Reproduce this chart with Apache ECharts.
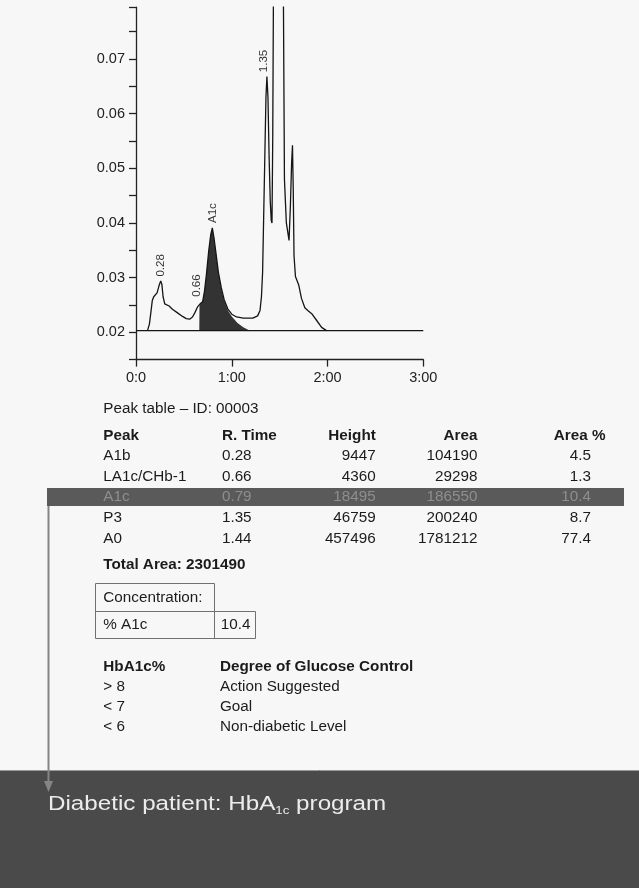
<!DOCTYPE html>
<html>
<head>
<meta charset="utf-8">
<script src="https://cdn.jsdelivr.net/npm/echarts@6/dist/echarts.min.js"></script>
<style>
  html, body { margin: 0; padding: 0; background: #f7f7f7; }
  #chart { width: 639px; height: 888px; }
</style>
</head>
<body>
<div id="chart"></div>
<script>
// chromatogram trace (time in min, absorbance)
var traceT = [0.120,0.140,0.155,0.170,0.185,0.205,0.220,0.240,0.258,0.270,0.283,0.300,0.320,0.346,0.380,0.430,0.486,0.525,0.560,0.590,0.615,0.645,0.670,0.696,0.715,0.735,0.760,0.780,0.797,0.815,0.835,0.860,0.890,0.920,0.958,1.000,1.050,1.120,1.220,1.270,1.295,1.310,1.322,1.333,1.345,1.357,1.367,1.378,1.390,1.402,1.412,1.420,1.428,1.436,1.485,1.538,1.550,1.570,1.598,1.612,1.625,1.634,1.642,1.650,1.665,1.700,1.728,1.763,1.800,1.835,1.885,1.938,1.990]
var traceV = [0.0203,0.0215,0.0236,0.0258,0.0265,0.0267,0.0272,0.0285,0.0294,0.0288,0.0265,0.0252,0.0250,0.0248,0.0242,0.0236,0.0229,0.0225,0.0224,0.0228,0.0236,0.0247,0.0252,0.0256,0.0275,0.0305,0.0350,0.0378,0.0391,0.0372,0.0345,0.0310,0.0282,0.0260,0.0243,0.0233,0.0228,0.0226,0.0226,0.0230,0.0240,0.0265,0.0310,0.0410,0.0520,0.0630,0.0668,0.0630,0.0520,0.0440,0.0405,0.0400,0.0560,0.0850,0.6000,0.0850,0.0480,0.0400,0.0368,0.0430,0.0510,0.0542,0.0460,0.0340,0.0302,0.0286,0.0262,0.0245,0.0239,0.0234,0.0222,0.0209,0.0203]
// integrated A1c peak (shaded)
var a1cT = [0.661,0.663,0.696,0.715,0.735,0.760,0.780,0.797,0.815,0.835,0.860,0.890,0.920,0.960,1.000,1.060,1.120,1.190]
var a1cV = [0.0203,0.0250,0.0256,0.0275,0.0305,0.0350,0.0378,0.0391,0.0372,0.0345,0.0310,0.0280,0.0258,0.0240,0.0229,0.0217,0.0209,0.0203]
var baseV = 0.0203
// peak annotations
var peakLabelT = [0.258, 0.640, 0.801, 1.336]
var peakLabelV = [0.0302, 0.0265, 0.0400, 0.0676]
var peakLabelText = ['0.28', '0.66', 'A1c', '1.35']
var xTicks = ['0:0', '1:00', '2:00', '3:00']

// peak table
var peakNames = ['A1b', 'LA1c/CHb-1', 'A1c', 'P3', 'A0']
var rTimes = ['0.28', '0.66', '0.79', '1.35', '1.44']
var heights = [9447, 4360, 18495, 46759, 457496]
var areas = [104190, 29298, 186550, 200240, 1781212]
var areaPct = ['4.5', '1.3', '10.4', '8.7', '77.4']
var totalArea = 2301490
var concA1c = '10.4'
var hbLevels = ['> 8', '< 7', '< 6']
var hbDegrees = ['Action Suggested', 'Goal', 'Non-diabetic Level']

var FONT = '"Liberation Sans", Arial, Helvetica, sans-serif'
var INK = '#1b1b1b'

function txt(x, y, s, o) {
  o = o || {}
  return {
    type: 'text', x: x, y: y, z: 20,
    scaleX: o.sx || 1.09,
    style: {
      text: s,
      fill: o.color || INK,
      font: (o.bold ? 'bold ' : '') + (o.size || 14) + 'px ' + FONT,
      align: o.align || 'left', textAlign: o.align || 'left',
      verticalAlign: 'middle', textVerticalAlign: 'middle'
    }
  }
}

var graphics = []
// highlight bar + arrow + bottom band
graphics.push({ type: 'rect', z: 5, shape: { x: 0, y: 770, width: 639, height: 118 }, style: { fill: '#4a4a4a' } })
graphics.push({ type: 'line', z: 6, shape: { x1: 0, y1: 770.5, x2: 639, y2: 770.5 }, style: { stroke: '#9a9a9a', lineWidth: 1 } })
graphics.push({ type: 'rect', z: 8, shape: { x: 47, y: 488, width: 577, height: 18 }, style: { fill: '#5a5a5a' } })
graphics.push({ type: 'line', z: 9, shape: { x1: 48.5, y1: 506, x2: 48.5, y2: 783 }, style: { stroke: '#858585', lineWidth: 2 } })
graphics.push({ type: 'polygon', z: 9, shape: { points: [[44, 781], [53, 781], [48.5, 792]] }, style: { fill: '#858585' } })
graphics.push({
  type: 'text', x: 48, y: 804, z: 20, scaleX: 1.21,
  style: {
    text: '{m|Diabetic patient: HbA}{s|1c}{m| program}',
    fill: '#ececec', verticalAlign: 'middle', textVerticalAlign: 'middle',
    rich: {
      m: { fontSize: 20, fontFamily: FONT, fill: '#ececec', lineHeight: 24, verticalAlign: 'middle' },
      s: { fontSize: 11, fontFamily: FONT, fill: '#ececec', lineHeight: 22, verticalAlign: 'bottom' }
    }
  }
})

// peak table
graphics.push(txt(103.3, 409.3, 'Peak table \u2013 ID: 00003'))
var rowY0 = 435.7, rowStep = 20.6
var headerY = rowY0
graphics.push(txt(103.3, headerY, 'Peak', { bold: true }))
graphics.push(txt(221.9, headerY, 'R. Time', { bold: true }))
graphics.push(txt(375.8, headerY, 'Height', { bold: true, align: 'right' }))
graphics.push(txt(477.4, headerY, 'Area', { bold: true, align: 'right' }))
graphics.push(txt(605.5, headerY, 'Area %', { bold: true, align: 'right' }))
peakNames.forEach(function (name, i) {
  var y = rowY0 + rowStep * (i + 1)
  var c = i === 2 ? '#8e8e8e' : INK
  graphics.push(txt(103.3, y, name, { color: c }))
  graphics.push(txt(221.9, y, rTimes[i], { color: c }))
  graphics.push(txt(375.8, y, String(heights[i]), { color: c, align: 'right' }))
  graphics.push(txt(477.4, y, String(areas[i]), { color: c, align: 'right' }))
  graphics.push(txt(591, y, areaPct[i], { color: c, align: 'right' }))
})
graphics.push(txt(103.3, 565, 'Total Area: ' + totalArea, { bold: true }))

// concentration box
var boxStroke = { stroke: '#707070', lineWidth: 1, fill: null }
graphics.push({ type: 'rect', z: 10, shape: { x: 95.5, y: 583.5, width: 119, height: 55 }, style: boxStroke })
graphics.push({ type: 'line', z: 10, shape: { x1: 95.5, y1: 611.5, x2: 214.5, y2: 611.5 }, style: boxStroke })
graphics.push({ type: 'rect', z: 10, shape: { x: 214.5, y: 611.5, width: 41, height: 27 }, style: boxStroke })
graphics.push(txt(103.3, 598, 'Concentration:'))
graphics.push(txt(103.3, 625, '% A1c'))
graphics.push(txt(220.7, 625, concA1c))

// HbA1c legend
graphics.push(txt(103.3, 666.7, 'HbA1c%', { bold: true }))
graphics.push(txt(220, 666.7, 'Degree of Glucose Control', { bold: true }))
hbLevels.forEach(function (lv, i) {
  var y = 686.7 + 20.2 * i
  graphics.push(txt(103.3, y, lv))
  graphics.push(txt(220, y, hbDegrees[i]))
})

var axisStyle = { color: '#222', width: 1.3 }
var labelStyle = { color: '#222', fontSize: 14.5, fontFamily: FONT, margin: 11 }

var option = {
  backgroundColor: '#f7f7f7',
  animation: false,
  grid: { left: 136, right: 215.7, top: 7.1, bottom: 528.4 },
  xAxis: {
    type: 'value', min: 0, max: 3, interval: 1,
    axisLine: { lineStyle: axisStyle },
    axisTick: { length: 7, lineStyle: axisStyle },
    axisLabel: Object.assign({}, labelStyle, {
      formatter: function (v) { return xTicks[Math.round(v)] }
    }),
    splitLine: { show: false }
  },
  yAxis: {
    type: 'value', min: 0.015, max: 0.0795, interval: 0.005,
    axisLine: { show: true, lineStyle: axisStyle },
    axisTick: { show: true, length: 7, lineStyle: axisStyle },
    axisLabel: Object.assign({}, labelStyle, {
      formatter: function (v) {
        var k = Math.round(v * 1000)
        return (k % 10 === 0 && k >= 20 && k <= 70) ? (k / 1000).toFixed(2) : ''
      }
    }),
    splitLine: { show: false }
  },
  series: [
    {
      name: 'A1c area', type: 'line', silent: true, z: 2,
      data: a1cT.map(function (t, i) { return [t, a1cV[i]] }),
      showSymbol: false,
      lineStyle: { width: 0 },
      areaStyle: { color: '#333333', opacity: 1, origin: baseV }
    },
    {
      name: 'baseline', type: 'line', silent: true, z: 3,
      data: [[0, baseV], [3, baseV]],
      showSymbol: false,
      lineStyle: { color: '#151515', width: 1.3 }
    },
    {
      name: 'trace', type: 'line', silent: true, z: 4,
      data: traceT.map(function (t, i) { return [t, traceV[i]] }),
      showSymbol: false,
      lineStyle: { color: '#151515', width: 1.3 }
    },
    {
      name: 'peak labels', type: 'scatter', silent: true, z: 5,
      symbolSize: 0,
      data: peakLabelT.map(function (t, i) { return { value: [t, peakLabelV[i]], name: peakLabelText[i] } }),
      label: {
        show: true, position: [0, 0], rotate: 90,
        align: 'left', verticalAlign: 'middle',
        fontSize: 11.5, fontFamily: FONT, color: '#000',
        formatter: function (p) { return p.name }
      }
    }
  ],
  graphic: graphics
}

var myChart = echarts.init(document.getElementById('chart'))
myChart.setOption(option)
</script>
</body>
</html>
